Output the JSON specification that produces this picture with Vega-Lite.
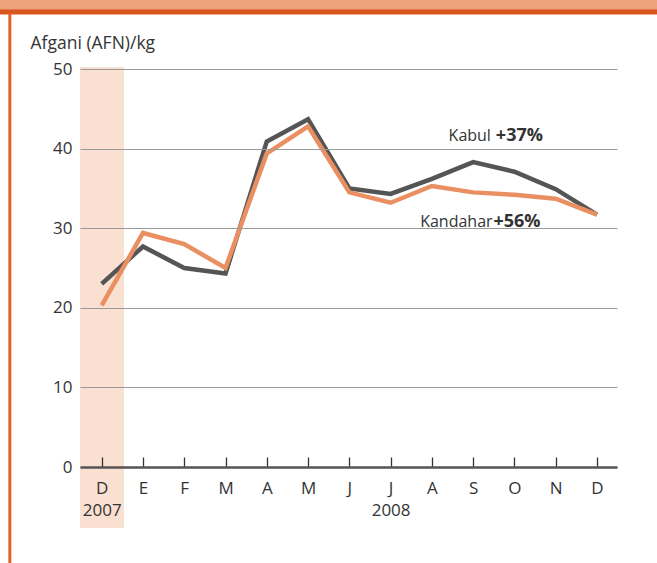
{
  "$schema": "https://vega.github.io/schema/vega-lite/v6.json",
  "width": 537,
  "height": 398,
  "autosize": {"type": "none"},
  "padding": {"left": 80, "top": 69, "right": 40, "bottom": 96},
  "background": "white",
  "config": {"view": {"stroke": null}, "font": "Open Sans"},
  "datasets": {
    "prices": [
      {"m": 0, "city": "Kabul", "afn": 23.0},
      {"m": 1, "city": "Kabul", "afn": 27.7},
      {"m": 2, "city": "Kabul", "afn": 25.0},
      {"m": 3, "city": "Kabul", "afn": 24.3},
      {"m": 4, "city": "Kabul", "afn": 40.9},
      {"m": 5, "city": "Kabul", "afn": 43.7},
      {"m": 6, "city": "Kabul", "afn": 35.0},
      {"m": 7, "city": "Kabul", "afn": 34.3},
      {"m": 8, "city": "Kabul", "afn": 36.2},
      {"m": 9, "city": "Kabul", "afn": 38.3},
      {"m": 10, "city": "Kabul", "afn": 37.1},
      {"m": 11, "city": "Kabul", "afn": 34.9},
      {"m": 12, "city": "Kabul", "afn": 31.7},
      {"m": 0, "city": "Kandahar", "afn": 20.3},
      {"m": 1, "city": "Kandahar", "afn": 29.4},
      {"m": 2, "city": "Kandahar", "afn": 28.0},
      {"m": 3, "city": "Kandahar", "afn": 25.0},
      {"m": 4, "city": "Kandahar", "afn": 39.4},
      {"m": 5, "city": "Kandahar", "afn": 42.8},
      {"m": 6, "city": "Kandahar", "afn": 34.5},
      {"m": 7, "city": "Kandahar", "afn": 33.2},
      {"m": 8, "city": "Kandahar", "afn": 35.3},
      {"m": 9, "city": "Kandahar", "afn": 34.5},
      {"m": 10, "city": "Kandahar", "afn": 34.2},
      {"m": 11, "city": "Kandahar", "afn": 33.7},
      {"m": 12, "city": "Kandahar", "afn": 31.7}
    ]
  },
  "layer": [
    {
      "data": {"values": [{}]},
      "mark": {"type": "rect", "color": "#eea27b", "clip": false},
      "encoding": {
        "x": {"datum": -2.5, "type": "quantitative", "scale": {"domain": [-0.526, 12.485], "nice": false, "zero": false}},
        "x2": {"datum": 14.0},
        "y": {"datum": 58.8, "type": "quantitative", "scale": {"domain": [0, 50], "nice": false, "zero": false}},
        "y2": {"datum": 57.5}
      }
    },
    {
      "data": {"values": [{}]},
      "mark": {"type": "rect", "color": "#d9561f", "clip": false},
      "encoding": {
        "x": {"datum": -2.5, "type": "quantitative"},
        "x2": {"datum": 14.0},
        "y": {"datum": 57.5, "type": "quantitative"},
        "y2": {"datum": 56.85}
      }
    },
    {
      "data": {"values": [{}]},
      "mark": {"type": "rect", "color": "#e2602a", "clip": false},
      "encoding": {
        "x": {"datum": -2.262, "type": "quantitative"},
        "x2": {"datum": -2.19},
        "y": {"datum": 57.0, "type": "quantitative"},
        "y2": {"datum": -12.2}
      }
    },
    {
      "data": {"values": [{}]},
      "mark": {"type": "rect", "color": "#f9e0d1", "clip": false},
      "encoding": {
        "x": {"datum": -0.526, "type": "quantitative"},
        "x2": {"datum": 0.54},
        "y": {"datum": 50.25, "type": "quantitative"},
        "y2": {"datum": -7.66}
      }
    },
    {
      "data": {"name": "prices"},
      "mark": {"type": "line", "strokeWidth": 4.5, "strokeJoin": "miter", "clip": false, "zindex": 2},
      "encoding": {
        "x": {
          "field": "m", "type": "quantitative",
          "scale": {"domain": [-0.526, 12.485], "nice": false, "zero": false},
          "axis": {
            "values": [0, 1, 2, 3, 4, 5, 6, 7, 8, 9, 10, 11, 12],
            "labelExpr": "datum.value == 0 ? ['D', '2007'] : datum.value == 7 ? ['J', '2008'] : ['D','E','F','M','A','M','J','J','A','S','O','N','D'][datum.value]",
            "title": null,
            "grid": false,
            "zindex": 1,
            "tickSize": -10,
            "tickColor": "#333333",
            "tickWidth": 1.3,
            "domainColor": "#555555",
            "domainWidth": 2.5,
            "labelFont": "Open Sans",
            "labelFontSize": 17,
            "labelColor": "#333333",
            "labelPadding": 31,
            "labelLineHeight": 22,
            "labelAlign": "center",
            "labelBaseline": "middle",
            "labelFlush": false,
            "labelOverlap": false
          }
        },
        "y": {
          "field": "afn", "type": "quantitative",
          "scale": {"domain": [0, 50], "nice": false, "zero": false},
          "axis": {
            "values": [0, 10, 20, 30, 40, 50],
            "title": "Afgani (AFN)/kg",
            "titleAngle": 0,
            "titleAlign": "left",
            "titleBaseline": "alphabetic",
            "titleX": -50,
            "titleY": -21,
            "titleFont": "Open Sans",
            "titleFontSize": 17.5,
            "titleFontWeight": "normal",
            "titleColor": "#333333",
            "zindex": 1,
            "ticks": false,
            "domain": false,
            "grid": true,
            "gridColor": "#999999",
            "gridWidth": 1.2,
            "labelFont": "Open Sans",
            "labelFontSize": 17,
            "labelColor": "#333333",
            "labelPadding": 8
          }
        },
        "color": {
          "field": "city", "type": "nominal",
          "scale": {"domain": ["Kabul", "Kandahar"], "range": ["#555555", "#e98f62"]},
          "legend": null
        },
        "order": {"field": "m"}
      }
    },
    {
      "data": {"values": [{}]},
      "mark": {"type": "text", "align": "right", "baseline": "alphabetic", "fontSize": 16, "color": "#333333", "font": "Open Sans", "text": "Kabul", "clip": false, "zindex": 2},
      "encoding": {
        "x": {"datum": 9.43, "type": "quantitative"},
        "y": {"datum": 40.9, "type": "quantitative"}
      }
    },
    {
      "data": {"values": [{}]},
      "mark": {"type": "text", "align": "left", "baseline": "alphabetic", "fontSize": 18, "fontWeight": "bold", "color": "#333333", "font": "Open Sans", "text": "+37%", "clip": false, "zindex": 2},
      "encoding": {
        "x": {"datum": 9.55, "type": "quantitative"},
        "y": {"datum": 40.9, "type": "quantitative"}
      }
    },
    {
      "data": {"values": [{}]},
      "mark": {"type": "text", "align": "right", "baseline": "alphabetic", "fontSize": 16, "color": "#333333", "font": "Open Sans", "text": "Kandahar", "clip": false, "zindex": 2},
      "encoding": {
        "x": {"datum": 9.47, "type": "quantitative"},
        "y": {"datum": 30.2, "type": "quantitative"}
      }
    },
    {
      "data": {"values": [{}]},
      "mark": {"type": "text", "align": "left", "baseline": "alphabetic", "fontSize": 18, "fontWeight": "bold", "color": "#333333", "font": "Open Sans", "text": "+56%", "clip": false, "zindex": 2},
      "encoding": {
        "x": {"datum": 9.49, "type": "quantitative"},
        "y": {"datum": 30.2, "type": "quantitative"}
      }
    }
  ]
}
